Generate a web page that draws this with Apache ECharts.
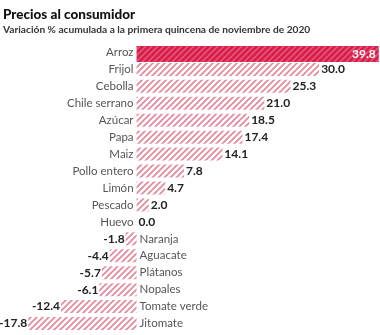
<!DOCTYPE html>
<html><head><meta charset="utf-8">
<script src="https://cdn.jsdelivr.net/npm/echarts@6/dist/echarts.min.js"></script>
<style>html,body{margin:0;padding:0;background:#fff}#c{width:380px;height:335px}</style>
</head><body><div id="c"></div>
<script>
const categories = ["Arroz","Frijol","Cebolla","Chile serrano","Azúcar","Papa","Maiz","Pollo entero","Limón","Pescado","Huevo","Naranja","Aguacate","Plátanos","Nopales","Tomate verde","Jitomate"];
const values = [39.8,30.0,25.3,21.0,18.5,17.4,14.1,7.8,4.7,2.0,0.0,-1.8,-4.4,-5.7,-6.1,-12.4,-17.8];
const titleText = "Precios al consumidor";
const subtitleText = "Variación % acumulada a la primera quincena de noviembre de 2020";

function hatch(bg, fg, lw) {
  const c = document.createElement('canvas');
  const s = 6;
  c.width = s; c.height = s;
  const g = c.getContext('2d');
  if (bg) { g.fillStyle = bg; g.fillRect(0,0,s,s); }
  g.strokeStyle = fg; g.lineWidth = lw;
  g.beginPath();
  g.moveTo(-1, s+1); g.lineTo(s+1, -1);
  g.moveTo(-1 - s, s+1); g.lineTo(1, -1);
  g.moveTo(s-1, s+1); g.lineTo(2*s+1, -1);
  g.stroke();
  return c;
}
const lightPat = hatch('#ffffff', '#e6849a', 1.6);
const darkPat = hatch('#d71e48', '#e4547a', 1.6);

const chart = echarts.init(document.getElementById('c'), null, {renderer:'canvas'});
const font = "Lato, sans-serif";

const mainData = values.map((v, i) => i === 0 ? '-' : ({
  value: v,
  label: { show: true, position: v < 0 ? 'left' : 'right', distance: v < 0 ? 1 : 2 }
}));
const topData = values.map((v, i) => i === 0 ? ({
  value: v,
  label: { show: true, position: 'insideRight', color: '#ffffff', distance: 3 }
}) : '-');
const nameData = values.map((v, i) => ({
  value: 0,
  label: { show: true, position: v < 0 ? 'right' : 'left', distance: 3 }
}));

const valueLabel = { fontFamily: font, fontSize: 12, fontWeight: 'bold', color: '#222', formatter: p => p.value.toFixed(1) };

chart.setOption({
  animation: false,
  title: [
    { text: titleText, left: 3, top: 8, padding: 0, textStyle: { fontFamily: font, fontSize: 13.5, fontWeight: 900, color: '#111' } },
    { text: subtitleText, left: 3, top: 25, padding: 0, textStyle: { fontFamily: font, fontSize: 10.2, fontWeight: 'bold', color: '#333' } }
  ],
  grid: { left: 27, right: 0, top: 44, bottom: 3, containLabel: false },
  xAxis: { type: 'value', min: -18, max: 40, show: false },
  yAxis: { type: 'category', data: categories, inverse: true, show: false },
  series: [
    {
      type: 'bar', data: mainData, barWidth: 13, barGap: '-100%',
      itemStyle: { color: { image: lightPat, repeat: 'repeat' } },
      label: valueLabel
    },
    {
      type: 'bar', data: topData, barWidth: 16, barGap: '-100%',
      itemStyle: { color: { image: darkPat, repeat: 'repeat' } },
      label: valueLabel
    },
    {
      type: 'bar', data: nameData, barWidth: 13, barGap: '-100%',
      itemStyle: { color: 'rgba(0,0,0,0)' },
      label: { fontFamily: font, fontSize: 11.5, color: '#555', formatter: p => p.name }
    }
  ]
});
</script></body></html>
